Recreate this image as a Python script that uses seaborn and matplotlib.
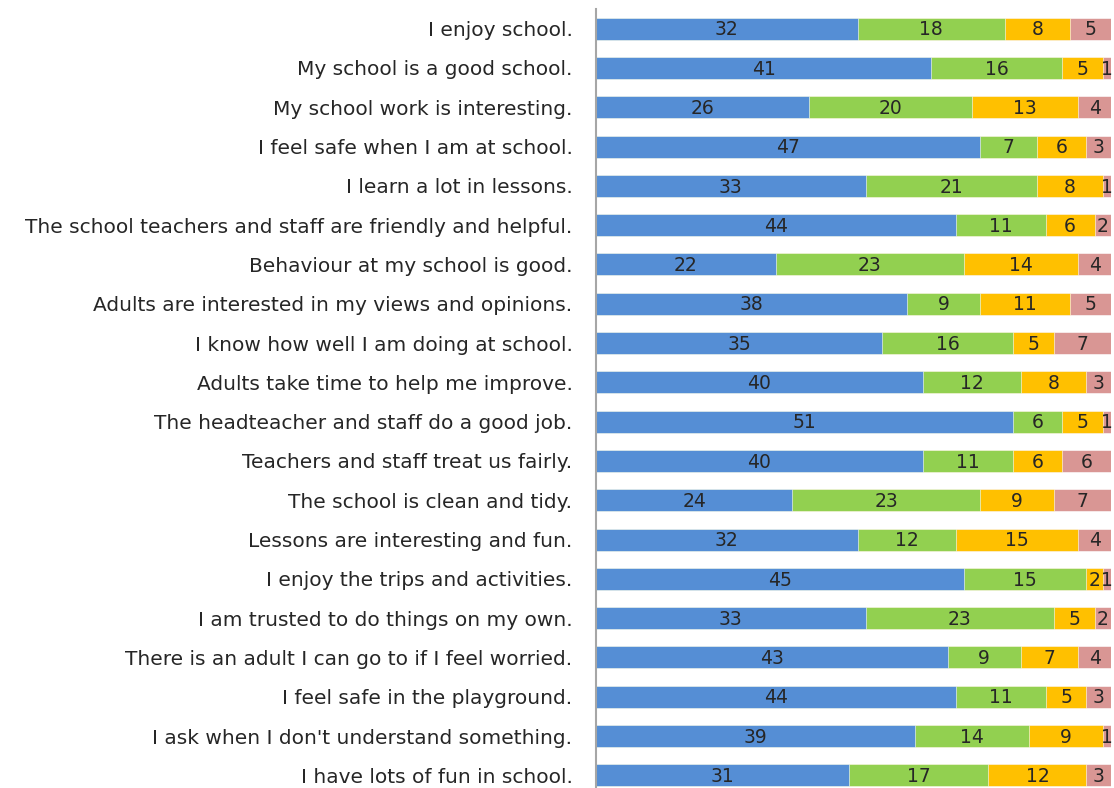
import pandas as pd
import matplotlib.pyplot as plt
import seaborn as sns

# Survey statements (top to bottom)
statements = [
    "I enjoy school.",
    "My school is a good school.",
    "My school work is interesting.",
    "I feel safe when I am at school.",
    "I learn a lot in lessons.",
    "The school teachers and staff are friendly and helpful.",
    "Behaviour at my school is good.",
    "Adults are interested in my views and opinions.",
    "I know how well I am doing at school.",
    "Adults take time to help me improve.",
    "The headteacher and staff do a good job.",
    "Teachers and staff treat us fairly.",
    "The school is clean and tidy.",
    "Lessons are interesting and fun.",
    "I enjoy the trips and activities.",
    "I am trusted to do things on my own.",
    "There is an adult I can go to if I feel worried.",
    "I feel safe in the playground.",
    "I ask when I don't understand something.",
    "I have lots of fun in school.",
]

# Response counts per statement
strongly_agree = [32, 41, 26, 47, 33, 44, 22, 38, 35, 40, 51, 40, 24, 32, 45, 33, 43, 44, 39, 31]
agree = [18, 16, 20, 7, 21, 11, 23, 9, 16, 12, 6, 11, 23, 12, 15, 23, 9, 11, 14, 17]
disagree = [8, 5, 13, 6, 8, 6, 14, 11, 5, 8, 5, 6, 9, 15, 2, 5, 7, 5, 9, 12]
strongly_disagree = [5, 1, 4, 3, 1, 2, 4, 5, 7, 3, 1, 6, 7, 4, 1, 2, 4, 3, 1, 3]

colors = ["#558ED5", "#92D050", "#FFC000", "#D99694"]

df = pd.DataFrame({
    "statement": statements,
    "s1": strongly_agree,
    "s2": agree,
    "s3": disagree,
    "s4": strongly_disagree,
})
cols = ["s1", "s2", "s3", "s4"]
cum = df[cols].cumsum(axis=1)
cum["statement"] = df["statement"]

FONT = "DejaVu Sans"

fig = plt.figure(figsize=(11.14, 7.88), dpi=100)
ax = fig.add_axes([596 / 1114, -7 / 788, 515 / 1114, 786 / 788])

# Draw cumulative totals from the largest down so each layer shows its segment
for col, color in zip(reversed(cols), reversed(colors)):
    sns.barplot(data=cum, x=col, y="statement", order=statements,
                color=color, width=0.56, saturation=1,
                edgecolor="white", linewidth=0.4, ax=ax)

# Segment value labels
for i in range(len(statements)):
    start = 0
    for col in cols:
        val = df.loc[i, col]
        ax.text(start + val / 2, i + 0.03, str(val), ha="center", va="center",
                fontsize=13.5, color="#262626", family=FONT)
        start += val

ax.set_xlim(0, 63)
ax.set_ylim(19.5, -0.5)
ax.set_xlabel("")
ax.set_ylabel("")
ax.set_xticks([])
for s in ["top", "right", "bottom"]:
    ax.spines[s].set_visible(False)
ax.spines["left"].set_color("#A6A6A6")
ax.spines["left"].set_linewidth(1.5)
ax.tick_params(axis="y", length=0, pad=17)
for lbl in ax.get_yticklabels():
    lbl.set_fontfamily(FONT)
    lbl.set_fontsize(14.5)
    lbl.set_color("#262626")

fig.savefig("out.png", dpi=100)
plt.close()
